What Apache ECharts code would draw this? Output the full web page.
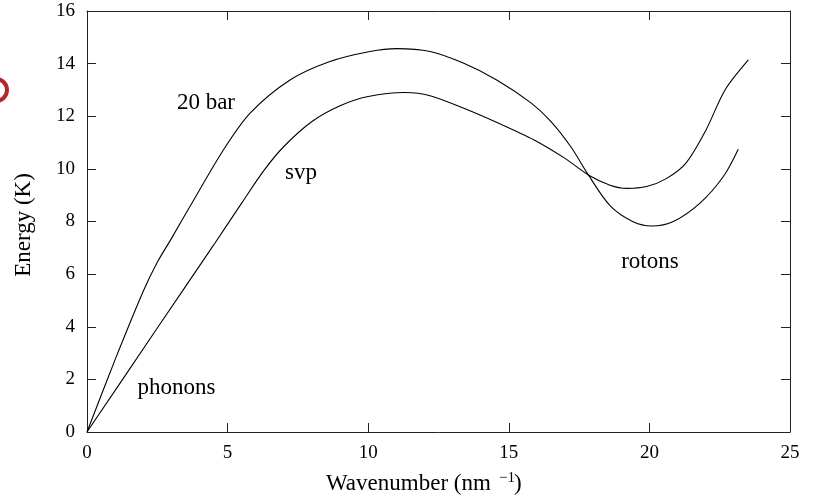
<!DOCTYPE html>
<html>
<head>
<meta charset="utf-8">
<script src="https://cdn.jsdelivr.net/npm/echarts@6/dist/echarts.min.js"></script>
<style>
html,body{margin:0;padding:0;background:#fff;}
#chart{width:813px;height:499px;}
</style>
</head>
<body>
<div id="chart"></div>
<script>
// 20 bar dispersion curve
var bar20X = [0, 1.0, 2.0, 2.5, 3.0, 3.66, 4.85, 5.8, 7.22, 8.64, 10.06, 11.01, 12.2, 13.38, 14.57, 15.8, 16.5, 17.2, 17.83, 18.6, 19.4, 20.08, 20.85, 21.8, 22.63, 23.16];
var bar20Y = [0, 2.75, 5.35, 6.45, 7.35, 8.57, 10.72, 12.12, 13.38, 14.08, 14.46, 14.57, 14.46, 14.02, 13.38, 12.5, 11.8, 10.85, 9.77, 8.6, 8.0, 7.83, 8.0, 8.7, 9.71, 10.75];
// saturated vapour pressure curve
var svpX = [0, 2.5, 4.5, 5.5, 6.3, 7.0, 8.0, 9.0, 10.0, 11.3, 12.2, 13.4, 14.6, 15.9, 17.0, 17.83, 18.6, 19.2, 19.9, 20.6, 21.3, 22.0, 22.69, 23.52];
var svpY = [0, 3.95, 7.1, 8.7, 9.95, 10.85, 11.8, 12.4, 12.75, 12.9, 12.78, 12.3, 11.75, 11.1, 10.4, 9.77, 9.38, 9.26, 9.33, 9.63, 10.22, 11.45, 13.0, 14.14];
// annotations (data coordinates)
var noteText = ['20 bar', 'svp', 'rotons', 'phonons'];
var noteX = [4.23, 7.61, 20.02, 3.18];
var noteY = [12.51, 9.85, 6.46, 1.67];
var xTicks = [0, 5, 10, 15, 20, 25];
var yTicks = [0, 2, 4, 6, 8, 10, 12, 14, 16];

function zip(a, b) { return a.map(function (v, i) { return [v, b[i]]; }); }

var FONT = '"Liberation Serif", "DejaVu Serif", serif';
var chart = echarts.init(document.getElementById('chart'), null, {renderer: 'canvas'});
var axisLineStyle = {color: '#222', width: 1};
function xAx(pos, labels) {
  return {
    type: 'value', position: pos, min: xTicks[0], max: xTicks[xTicks.length - 1], interval: 5,
    axisLine: {show: true, onZero: false, lineStyle: axisLineStyle},
    axisTick: {show: true, inside: true, length: 9, lineStyle: axisLineStyle},
    axisLabel: {show: labels, margin: 12, color: '#000', fontFamily: FONT, fontSize: 19},
    splitLine: {show: false}
  };
}
function yAx(pos, labels) {
  return {
    type: 'value', position: pos, min: yTicks[0], max: yTicks[yTicks.length - 1], interval: 2,
    axisLine: {show: true, onZero: false, lineStyle: axisLineStyle},
    axisTick: {show: true, inside: true, length: 9, lineStyle: axisLineStyle},
    axisLabel: {show: labels, margin: 12, color: '#000', fontFamily: FONT, fontSize: 19},
    splitLine: {show: false}
  };
}
chart.setOption({
  animation: false,
  backgroundColor: '#fff',
  grid: {left: 87, right: 23, top: 11, bottom: 67, containLabel: false},
  xAxis: [xAx('bottom', true), xAx('top', false)],
  yAxis: [yAx('left', true), yAx('right', false)],
  series: [
    {type: 'line', name: '20 bar', data: zip(bar20X, bar20Y), smooth: 0.3, showSymbol: false,
     lineStyle: {color: '#000', width: 1.1}, xAxisIndex: 0, yAxisIndex: 0},
    {type: 'line', name: 'svp', data: zip(svpX, svpY), smooth: 0.3, showSymbol: false,
     lineStyle: {color: '#000', width: 1.1}, xAxisIndex: 0, yAxisIndex: 0}
  ]
});

var g = [];
noteText.forEach(function (t, i) {
  var p = chart.convertToPixel({xAxisIndex: 0, yAxisIndex: 0}, [noteX[i], noteY[i]]);
  g.push({type: 'text', x: p[0], y: p[1], style: {text: t, font: '23px ' + FONT, fill: '#000', textAlign: 'center', textVerticalAlign: 'middle'}});
});
// axis titles
g.push({type: 'text', x: 326, y: 484, style: {text: 'Wavenumber (nm', font: '23px ' + FONT, fill: '#000', textAlign: 'left', textVerticalAlign: 'middle'}});
g.push({type: 'text', x: 499, y: 478, style: {text: '\u22121', font: '15px ' + FONT, fill: '#000', textAlign: 'left', textVerticalAlign: 'middle'}});
g.push({type: 'text', x: 514, y: 484, style: {text: ')', font: '23px ' + FONT, fill: '#000', textAlign: 'left', textVerticalAlign: 'middle'}});
g.push({type: 'text', x: 24, y: 225, rotation: Math.PI / 2, style: {text: 'Energy (K)', font: '23px ' + FONT, fill: '#000', textAlign: 'center', textVerticalAlign: 'middle'}});
// red ring fragment at left edge
g.push({type: 'circle', shape: {cx: -4, cy: 90, r: 11}, style: {fill: 'none', stroke: '#b0282a', lineWidth: 4}});
chart.setOption({graphic: g});
</script>
</body>
</html>
